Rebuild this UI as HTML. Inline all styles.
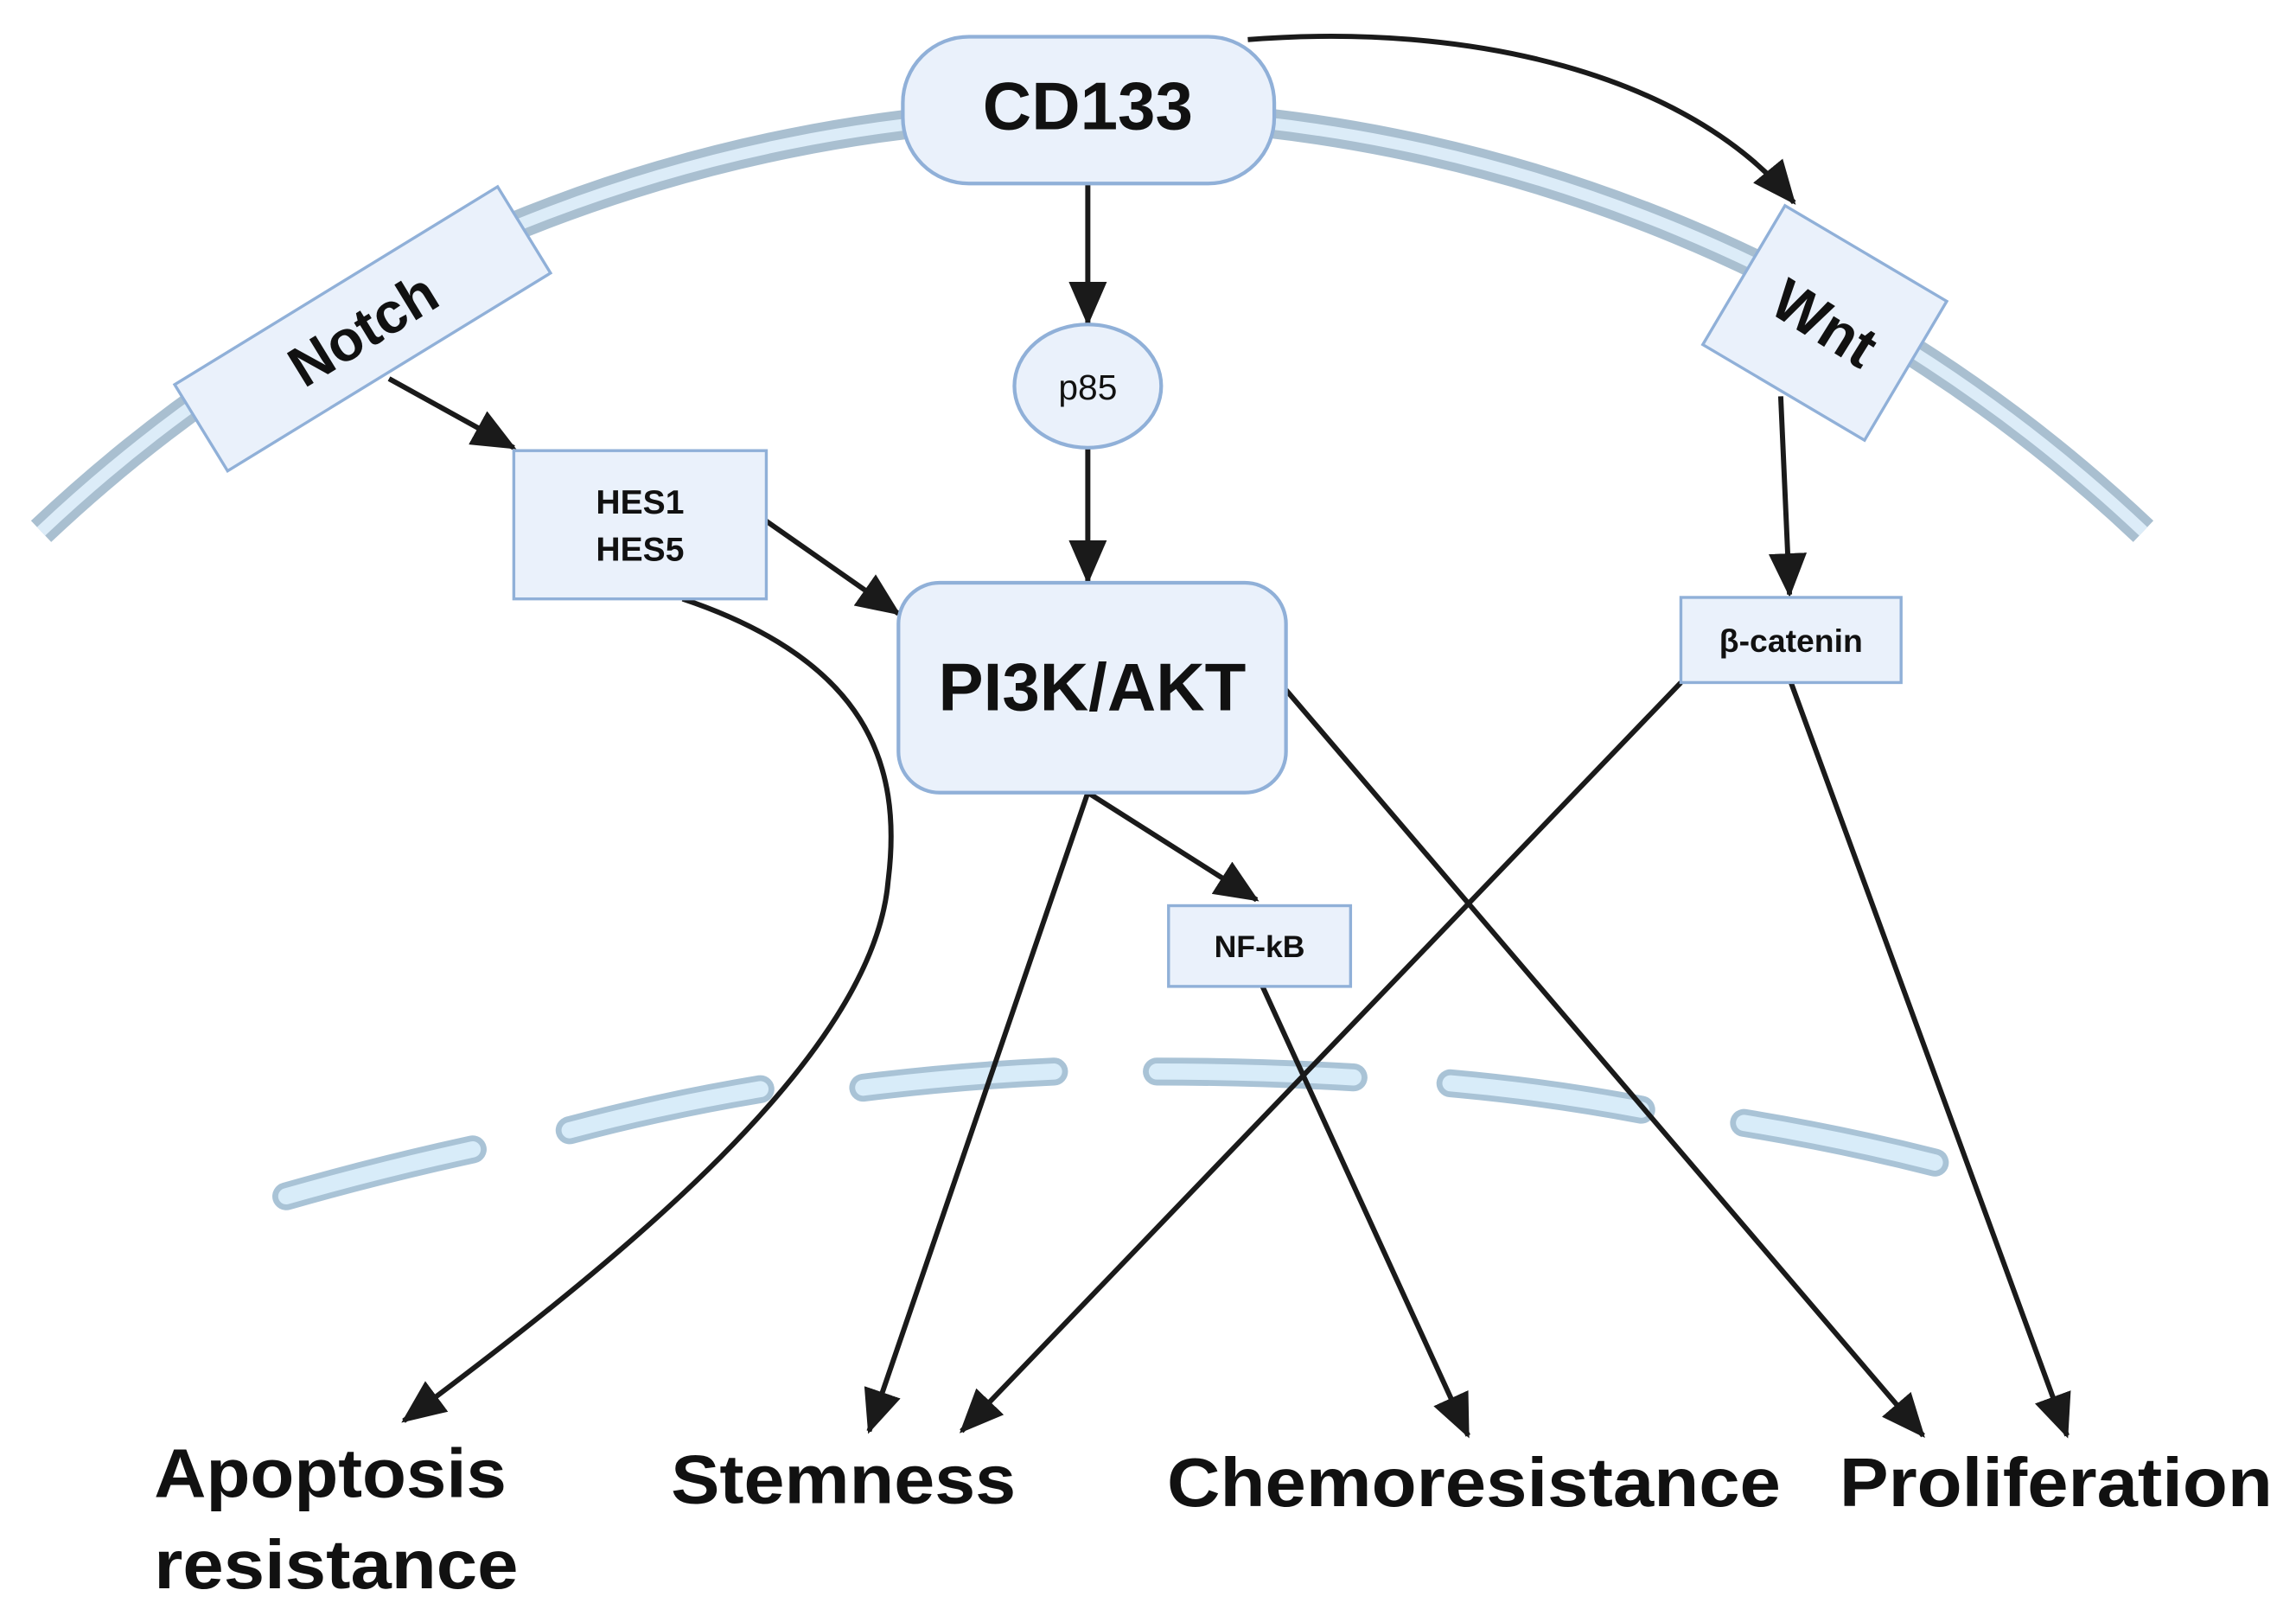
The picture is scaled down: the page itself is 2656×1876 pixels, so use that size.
<!DOCTYPE html>
<html><head><meta charset="utf-8"><style>
html,body{margin:0;padding:0;background:#fff;}
svg{display:block;}
text{font-family:"Liberation Sans",Arial,sans-serif;fill:#111;}
</style></head><body>
<svg width="2656" height="1876" viewBox="0 0 1564 1105" preserveAspectRatio="none" xmlns="http://www.w3.org/2000/svg">
<defs>
<marker id="ah" markerUnits="userSpaceOnUse" markerWidth="30" markerHeight="26" refX="28" refY="13" orient="auto">
<path d="M0,0 L30,13 L0,26 Z" fill="#1a1a1a"/>
</marker>
</defs>
<!-- cell membrane -->
<path d="M28,362 A1042,1042 0 0 1 1460,362" fill="none" stroke="#a9bfd0" stroke-width="20"/>
<path d="M28,362 A1042,1042 0 0 1 1460,362" fill="none" stroke="#dcecf8" stroke-width="8"/>
<!-- nuclear membrane dashes -->
<g stroke-linecap="round" fill="none">
<g stroke="#a9c3d6" stroke-width="19">
<path d="M195,815 Q258,797 322,783"/>
<path d="M388,770 Q452,753 518,742"/>
<path d="M588,741 Q652,733 718,730"/>
<path d="M788,730 Q855,730 922,734"/>
<path d="M988,738 Q1055,744 1118,756"/>
<path d="M1188,765 Q1255,776 1318,792"/>
</g>
<g stroke="#d8ecf9" stroke-width="11">
<path d="M195,815 Q258,797 322,783"/>
<path d="M388,770 Q452,753 518,742"/>
<path d="M588,741 Q652,733 718,730"/>
<path d="M788,730 Q855,730 922,734"/>
<path d="M988,738 Q1055,744 1118,756"/>
<path d="M1188,765 Q1255,776 1318,792"/>
</g>
</g>
<!-- connectors -->
<g fill="none" stroke="#1a1a1a" stroke-width="3.5" marker-end="url(#ah)">
<path d="M850,27 C1000,15 1150,50 1222,138"/>
<path d="M741,125 L741,220"/>
<path d="M741,305 L741,396"/>
<path d="M265,258 L350,305"/>
<path d="M522,355 L612,418"/>
<path d="M465,408 C590,450 615,520 605,600 C595,720 420,860 275,968"/>
<path d="M741,540 L592,975"/>
<path d="M741,540 L856,613"/>
<path d="M876,470 L1310,978"/>
<path d="M860,672 L1000,978"/>
<path d="M1145,465 L655,975"/>
<path d="M1220,465 L1408,978"/>
<path d="M1213,270 L1219,405"/>
</g>
<!-- nodes -->
<g fill="#eaf1fb" stroke="#90b0d8" stroke-width="2.5">
<rect x="615" y="25" width="253" height="100" rx="45"/>
<rect x="-129" y="-34.5" width="258" height="69" transform="translate(247,224) rotate(-31.5)" stroke-width="2"/>
<rect x="-64" y="-55" width="128" height="110" transform="translate(1243,220) rotate(30.6)" stroke-width="2"/>
<ellipse cx="741" cy="263" rx="50" ry="42"/>
<rect x="350" y="307" width="172" height="101" stroke-width="2"/>
<rect x="612" y="397" width="264" height="143" rx="28"/>
<rect x="1145" y="407" width="150" height="58" stroke-width="2"/>
<rect x="796" y="617" width="124" height="55" stroke-width="2"/>
</g>
<!-- labels -->
<text x="741" y="88" font-size="46" font-weight="bold" text-anchor="middle">CD133</text>
<text x="0" y="14" font-size="39" font-weight="bold" text-anchor="middle" transform="translate(247,224) rotate(-31.5)">Notch</text>
<text x="0" y="14" font-size="40" font-weight="bold" text-anchor="middle" transform="translate(1243,220) rotate(32)">Wnt</text>
<text x="741" y="272" font-size="24" text-anchor="middle">p85</text>
<text x="436" y="350" font-size="23" font-weight="bold" text-anchor="middle">HES1</text>
<text x="436" y="382" font-size="23" font-weight="bold" text-anchor="middle">HES5</text>
<text x="744" y="484" font-size="46" font-weight="bold" text-anchor="middle">PI3K/AKT</text>
<text x="1220" y="444" font-size="22" font-weight="bold" text-anchor="middle">β-catenin</text>
<text x="858" y="652" font-size="21" font-weight="bold" text-anchor="middle">NF-kB</text>
<g font-size="47" font-weight="bold">
<text x="105" y="1020" textLength="240" lengthAdjust="spacingAndGlyphs">Apoptosis</text>
<text x="105" y="1082" textLength="248" lengthAdjust="spacingAndGlyphs">resistance</text>
<text x="457" y="1024" textLength="235" lengthAdjust="spacingAndGlyphs">Stemness</text>
<text x="795" y="1026" textLength="418" lengthAdjust="spacingAndGlyphs">Chemoresistance</text>
<text x="1253" y="1026" textLength="295" lengthAdjust="spacingAndGlyphs">Proliferation</text>
</g>
</svg>
</body></html>
